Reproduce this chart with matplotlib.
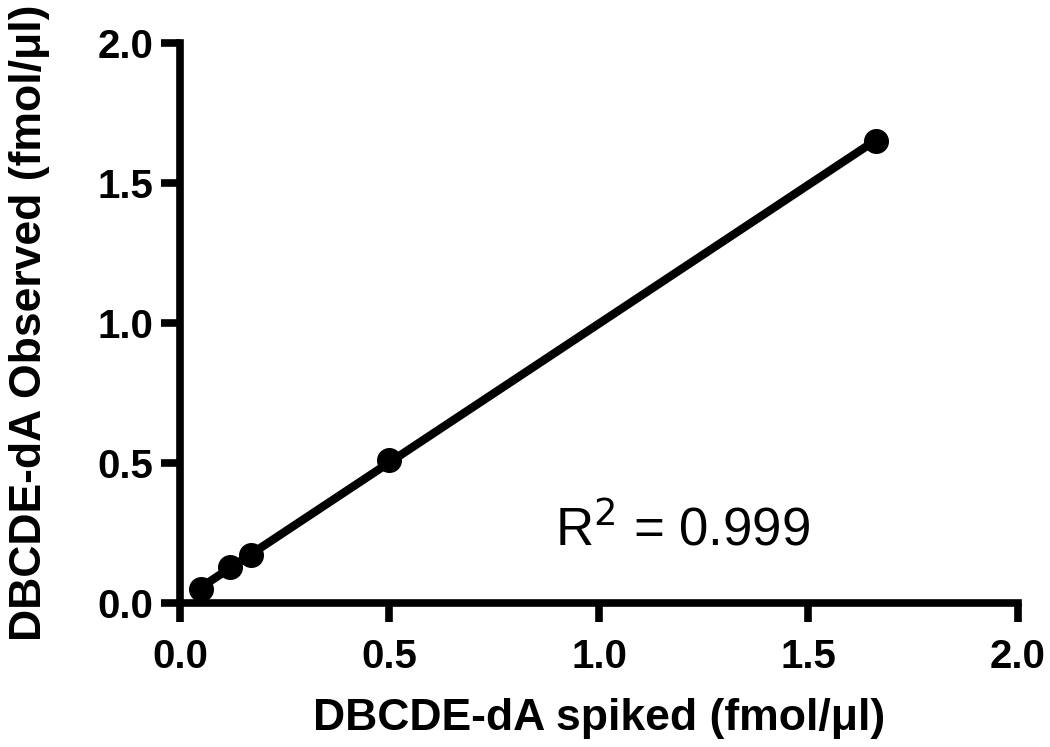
import matplotlib.pyplot as plt
import numpy as np

plt.rcParams['font.family'] = ['Liberation Sans', 'DejaVu Sans']

# data
spiked = [0.05, 0.12, 0.17, 0.50, 1.66]
observed = [0.05, 0.13, 0.17, 0.51, 1.65]
ticks = [0.0, 0.5, 1.0, 1.5, 2.0]
tick_labels = ["0.0", "0.5", "1.0", "1.5", "2.0"]

fig = plt.figure(figsize=(10.5, 7.47), dpi=100)
ax = fig.add_axes([0.1714, 0.1928, 0.7981, 0.7497])

# linear fit across the data range
slope, icpt = np.polyfit(spiked, observed, 1)
fx = np.array([min(spiked), max(spiked)])
ax.plot(fx, slope * fx + icpt, color="black", lw=6, solid_capstyle="butt", zorder=2)
ax.plot(spiked, observed, "o", color="black", ms=17, zorder=3, clip_on=False)

ax.set_xlim(0, 2.0)
ax.set_ylim(0, 2.0)
ax.set_xticks(ticks)
ax.set_xticklabels(tick_labels)
ax.set_yticks(ticks)
ax.set_yticklabels(tick_labels)

for s in ["top", "right"]:
    ax.spines[s].set_visible(False)
for s in ["left", "bottom"]:
    ax.spines[s].set_linewidth(5.5)
    ax.spines[s].set_capstyle("projecting")
ax.tick_params(width=5.5, length=14, direction="out", pad=5, labelsize=29)
ax.tick_params(axis="x", pad=11)
for lab in ax.get_xticklabels() + ax.get_yticklabels():
    lab.set_fontweight("bold")

ax.set_xlabel("DBCDE-dA spiked (fmol/\u03bcl)", fontsize=32, fontweight="bold", labelpad=16)
ax.set_ylabel("DBCDE-dA Observed (fmol/\u03bcl)", fontsize=32, fontweight="bold", labelpad=34)

ax.text(0.895, 0.26, "R$^2$ = 0.999", fontsize=38, ha="left", va="center")

fig.savefig("out.png", dpi=100)
